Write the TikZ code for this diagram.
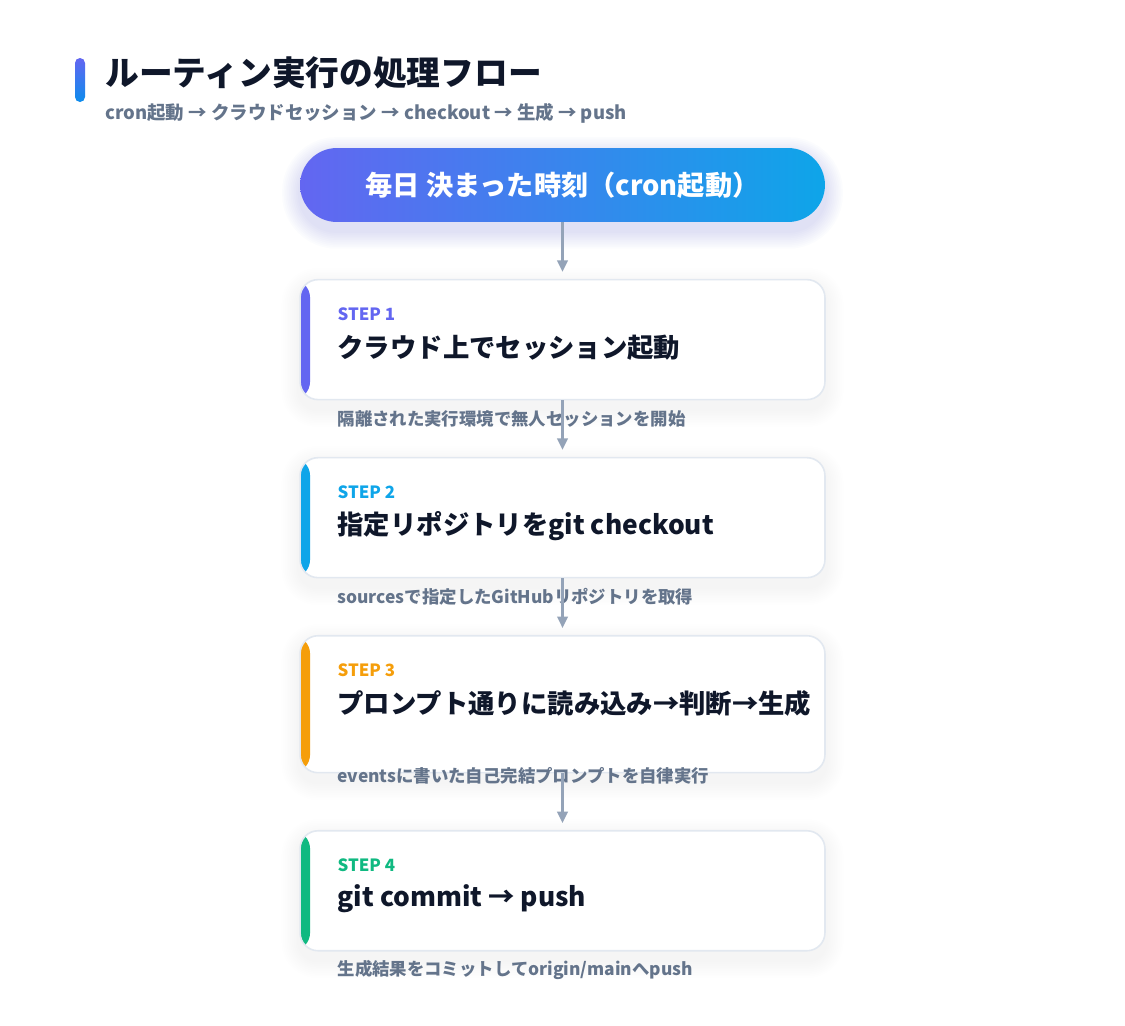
\documentclass[tikz,border=0pt]{standalone}
\usepackage{fontspec}
\setmainfont{Noto Sans CJK JP}
\usetikzlibrary{arrows.meta,positioning,backgrounds}
\definecolor{inkdark}{HTML}{0F172A}
\definecolor{slatetext}{HTML}{64748B}
\definecolor{arrowgray}{HTML}{94A3B8}
\definecolor{boxborder}{HTML}{E2E8F0}
\definecolor{stepindigo}{HTML}{6366F1}
\definecolor{stepsky}{HTML}{0EA5E9}
\definecolor{stepamber}{HTML}{F59E0B}
\definecolor{stepgreen}{HTML}{10B981}

\begin{document}
\begin{tikzpicture}[x=0.02cm,y=-0.02cm,node distance=1.13cm,
    pill/.style={rounded corners=0.74cm,minimum width=10.5cm,minimum height=1.48cm,inner sep=0pt,
        left color=stepindigo,right color=stepsky,text=white,font=\bfseries\fontsize{15.5}{18}\selectfont},
    stepbox/.style={draw=boxborder,line width=0.9pt,fill=white,rounded corners=0.36cm,
        minimum width=10.5cm,minimum height=2.4cm,inner sep=0pt,
        path picture={\fill[#1] (path picture bounding box.north west) rectangle ([xshift=0.2cm]path picture bounding box.south west);}},
    steptag/.style={anchor=west,inner sep=0pt,font=\bfseries\fontsize{9.6}{11}\selectfont},
    steptitle/.style={anchor=west,inner sep=0pt,text=inkdark,font=\bfseries\fontsize{15}{18}\selectfont},
    stepnote/.style={anchor=west,inner sep=0pt,text=slatetext,font=\bfseries\fontsize{9.9}{12}\selectfont},
    flowarrow/.style={draw=arrowgray,line width=1.3pt,-{Triangle[length=6.5pt,width=6pt]}}]

    \useasboundingbox (0,0) rectangle (1125,1025);

    % Heading
    \shade[top color=stepindigo,bottom color=stepsky!85!blue,rounded corners=0.1cm] (75,58) rectangle (85,102);
    \node[anchor=west,inner sep=0pt,text=inkdark,font=\bfseries\fontsize{19.2}{23}\selectfont] (title) at (105,73) {ルーティン実行の処理フロー};
    \node[anchor=west,inner sep=0pt,text=slatetext,font=\bfseries\fontsize{10.5}{13}\selectfont] (subtitle) at (105,113) {cron起動 → クラウドセッション → checkout → 生成 → push};

    % Trigger
    \node[pill] (cron) at (562.5,185) {毎日 決まった時刻（cron起動）};

    % Steps
    \node[stepbox=stepindigo,below=of cron] (step1) {};
    \node[stepbox=stepsky,below=of step1] (step2) {};
    \node[stepbox=stepamber,below=of step2,minimum height=2.74cm] (step3) {};
    \node[stepbox=stepgreen,below=of step3] (step4) {};

    % Step 1
    \node[steptag,text=stepindigo] (tag1) at ([xshift=0.76cm,yshift=-0.70cm]step1.north west) {STEP 1};
    \node[steptitle] (main1) at ([xshift=0.76cm,yshift=-1.38cm]step1.north west) {クラウド上でセッション起動};
    \node[stepnote] (note1) at ([yshift=-1.42cm]main1.west) {隔離された実行環境で無人セッションを開始};

    % Step 2
    \node[steptag,text=stepsky] (tag2) at ([xshift=0.76cm,yshift=-0.70cm]step2.north west) {STEP 2};
    \node[steptitle] (main2) at ([xshift=0.76cm,yshift=-1.38cm]step2.north west) {指定リポジトリをgit checkout};
    \node[stepnote] (note2) at ([yshift=-1.42cm]main2.west) {sourcesで指定したGitHubリポジトリを取得};

    % Step 3
    \node[steptag,text=stepamber] (tag3) at ([xshift=0.76cm,yshift=-0.70cm]step3.north west) {STEP 3};
    \node[steptitle] (main3) at ([xshift=0.76cm,yshift=-1.38cm]step3.north west) {プロンプト通りに読み込み→判断→生成};
    \node[stepnote] (note3) at ([yshift=-1.44cm]main3.west) {eventsに書いた自己完結プロンプトを自律実行};

    % Step 4
    \node[steptag,text=stepgreen] (tag4) at ([xshift=0.76cm,yshift=-0.70cm]step4.north west) {STEP 4};
    \node[steptitle] (main4) at ([xshift=0.76cm,yshift=-1.38cm]step4.north west) {git commit → push};
    \node[stepnote] (note4) at ([yshift=-1.42cm]main4.west) {生成結果をコミットしてorigin/mainへpush};

    % Arrows
    \draw[flowarrow] (cron.south) -- ([yshift=0.14cm]step1.north);
    \draw[flowarrow] (step1.south) -- ([yshift=0.14cm]step2.north);
    \draw[flowarrow] (step2.south) -- ([yshift=0.14cm]step3.north);
    \draw[flowarrow] (step3.south) -- ([yshift=0.14cm]step4.north);

    % soft shadows behind everything
    \begin{pgfonlayer}{background}
        \fill[white] (0,0) rectangle (1125,1025);
        \foreach \n/\c/\o/\r in {cron/stepindigo/0.018/0.74cm,step1/arrowgray/0.008/0.36cm,step2/arrowgray/0.008/0.36cm,step3/arrowgray/0.008/0.36cm,step4/arrowgray/0.008/0.36cm}
            \foreach \s in {1,...,10}
                \fill[\c,opacity=\o,rounded corners=\r+\s*1pt] ([xshift=-\s*1pt,yshift=\s*1pt-4pt]\n.north west) rectangle ([xshift=\s*1pt,yshift=-\s*1pt-5pt]\n.south east);
    \end{pgfonlayer}
\end{tikzpicture}
\end{document}
